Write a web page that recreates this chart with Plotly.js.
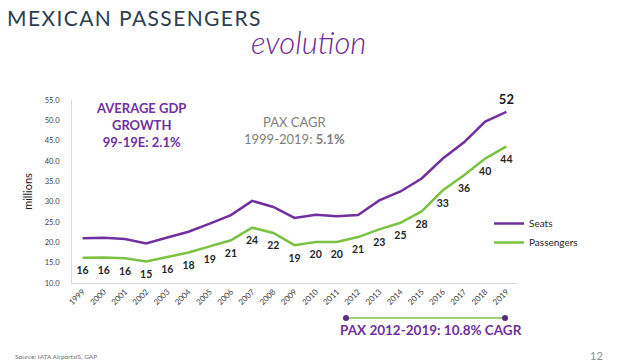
<!DOCTYPE html>
<html>
<head>
<meta charset="utf-8">
<script src="https://cdn.plot.ly/plotly-3.0.1.min.js"></script>
<style>html,body{margin:0;padding:0;background:#fff;}#chart{width:640px;height:364px;}</style>
</head>
<body>
<div id="chart"></div>
<script>
const years = ["1999","2000","2001","2002","2003","2004","2005","2006","2007","2008","2009","2010","2011","2012","2013","2014","2015","2016","2017","2018","2019"];
const seats = [21.0,21.1,20.8,19.7,21.2,22.6,24.6,26.7,30.2,28.7,26.0,26.8,26.4,26.7,30.3,32.5,35.7,40.6,44.6,49.7,52.1];
const passengers = [16.2,16.3,16.1,15.3,16.4,17.5,19.0,20.5,23.6,22.3,19.3,20.1,20.1,21.3,23.2,24.8,27.6,32.8,36.5,40.6,43.6];
const passengerLabels = ["16","16","16","15","16","18","19","21","24","22","19","20","20","21","23","25","28","33","36","40","44"];
const seatLabels = ["","","","","","","","","","","","","","","","","","","","","52"];
const yTickVals = [10,15,20,25,30,35,40,45,50,55];

const L = 72, R = 517, T = 100, B = 283;
const px = x => (x - L) / (R - L);
const py = y => (B - y) / (B - T);

const purple = "#7030a0";
const green = "#7cc242";

const traces = [
  {
    x: years, y: seats, name: "Seats", type: "scatter", mode: "lines+markers+text",
    line: {color: purple, width: 2.5},
    marker: {size: 6, color: "rgba(0,0,0,0)"},
    text: seatLabels, textposition: "top center",
    textfont: {family: "Lato", size: 13, weight: 700, color: "#1a1a1a"},
    cliponaxis: false
  },
  {
    x: years, y: passengers, name: "Passengers", type: "scatter", mode: "lines+markers+text",
    line: {color: green, width: 2.5},
    marker: {size: 12, color: "rgba(0,0,0,0)"},
    text: passengerLabels, textposition: "bottom center",
    textfont: {family: "Lato", size: 10.5, weight: 700, color: "#262626"},
    cliponaxis: false
  }
];

const layout = {
  width: 640, height: 364,
  margin: {l: L, r: 640 - R, t: T, b: 364 - B},
  paper_bgcolor: "#ffffff", plot_bgcolor: "#ffffff",
  font: {family: "Lato", color: "#404040"},
  title: {
    text: "MEXICAN PASSENGERS",
    x: 7 / 640, xanchor: "left", xref: "container",
    y: 1 - 19 / 364, yanchor: "middle", yref: "container",
    font: {family: "Lato", size: 21, color: "#2e3d4f"}
  },
  showlegend: true,
  legend: {
    x: px(489), xanchor: "left", y: py(209), yanchor: "top",
    font: {family: "Lato", size: 10, color: "#262626"},
    bgcolor: "rgba(0,0,0,0)", borderwidth: 0, tracegroupgap: 0
  },
  xaxis: {
    type: "category", range: [-0.5, 20.5],
    showgrid: false, zeroline: false,
    showline: true, linecolor: "#d9d9d9", linewidth: 1,
    tickangle: -45, ticks: "",
    tickfont: {family: "Lato", size: 8, color: "#404040"}
  },
  yaxis: {
    range: [10, 55], tickvals: yTickVals, tickformat: ".1f",
    showgrid: false, zeroline: false,
    showline: true, linecolor: "#d9d9d9", linewidth: 1,
    ticks: "", ticklabelstandoff: 10,
    tickfont: {family: "Lato", size: 7.5, color: "#404040"},
    title: {text: "millions", standoff: 9, font: {family: "Lato", size: 11, color: "#1a1a1a"}}
  },
  shapes: [
    {type: "line", xref: "paper", yref: "paper", x0: px(346), x1: px(505), y0: py(318), y1: py(318),
     line: {color: "#9fd07a", width: 2}},
    {type: "circle", xref: "paper", yref: "paper", xsizemode: "pixel", ysizemode: "pixel",
     xanchor: px(346), yanchor: py(318), x0: -3, x1: 3, y0: -3, y1: 3,
     fillcolor: "#5b2a86", line: {width: 0}},
    {type: "circle", xref: "paper", yref: "paper", xsizemode: "pixel", ysizemode: "pixel",
     xanchor: px(505), yanchor: py(318), x0: -3, x1: 3, y0: -3, y1: 3,
     fillcolor: "#5b2a86", line: {width: 0}}
  ],
  annotations: [
    {text: "evolution", xref: "paper", yref: "paper", x: px(308), y: py(42),
     xanchor: "center", yanchor: "middle", showarrow: false,
     font: {family: "Lato", size: 31, style: "italic", weight: 300, color: "#6b2c91"}},
    {text: "AVERAGE GDP<br>GROWTH<br>99-19E: 2.1%", xref: "paper", yref: "paper",
     x: px(141), y: py(125), xanchor: "center", yanchor: "middle", showarrow: false, align: "center",
     font: {family: "Lato", size: 13, weight: 700, color: purple}},
    {text: "PAX CAGR<br>1999-2019: <b>5.1%</b>", xref: "paper", yref: "paper",
     x: px(294.5), y: py(130), xanchor: "center", yanchor: "middle", showarrow: false, align: "center",
     font: {family: "Lato", size: 13, color: "#808080"}},
    {text: "PAX 2012-2019: 10.8% CAGR", xref: "paper", yref: "paper",
     x: px(431), y: py(330), xanchor: "center", yanchor: "middle", showarrow: false,
     font: {family: "Lato", size: 13.5, weight: 700, color: purple}},
    {text: "Source: IATA AirportsIS, GAP", xref: "paper", yref: "paper",
     x: px(13), y: py(356), xanchor: "left", yanchor: "middle", showarrow: false,
     font: {family: "Lato", size: 6.5, color: "#707070"}},
    {text: "12", xref: "paper", yref: "paper",
     x: px(596), y: py(355), xanchor: "center", yanchor: "middle", showarrow: false,
     font: {family: "Lato", size: 11, color: "#8c8c8c"}}
  ]
};

Plotly.newPlot("chart", traces, layout, {displayModeBar: false, staticPlot: true}).then(function (gd) {
  const t = gd.querySelector(".gtitle");
  if (t) t.style.letterSpacing = "1.4px";
});
</script>
</body>
</html>
